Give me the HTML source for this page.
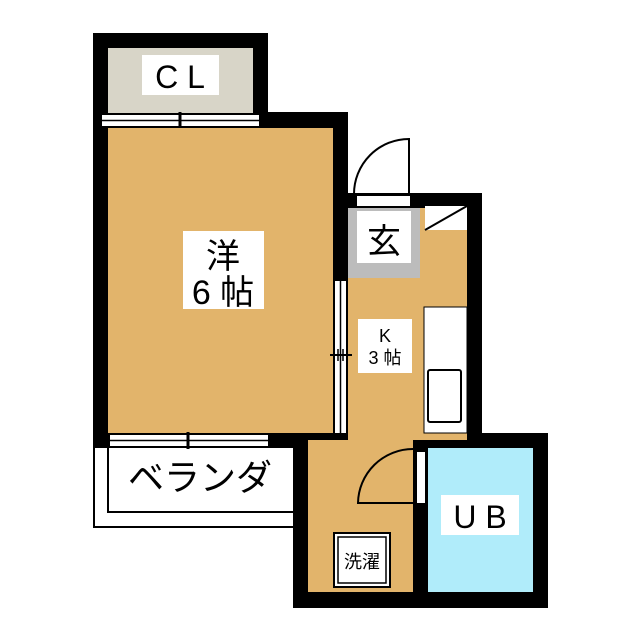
<!DOCTYPE html>
<html><head><meta charset="utf-8"><style>
body{margin:0;background:#fff}
svg{display:block}
text{font-family:"Liberation Sans","Noto Sans CJK JP",sans-serif;fill:#000}
</style></head><body>
<svg width="640" height="640" viewBox="0 0 640 640" xmlns="http://www.w3.org/2000/svg">
<rect width="640" height="640" fill="#fff"/>
<rect x="94" y="446" width="200" height="81" fill="#fff" stroke="#000" stroke-width="2"/>
<polyline points="108,446 108,512 294,512" fill="none" stroke="#000" stroke-width="2"/>
<text x="200" y="490" font-size="36" text-anchor="middle">ベランダ</text>
<rect x="93" y="33" width="175" height="95" fill="#000"/>
<rect x="93" y="112" width="255" height="336" fill="#000"/>
<rect x="333" y="193" width="149" height="255" fill="#000"/>
<rect x="293" y="433" width="255" height="175" fill="#000"/>
<rect x="108" y="48" width="145" height="65" fill="#d8d5c8"/>
<rect x="142" y="55" width="77" height="40" fill="#fff"/>
<text x="180" y="88" font-size="32" text-anchor="middle">C L</text>
<rect x="102" y="115" width="157" height="11" fill="#fff"/>
<line x1="102" y1="120.5" x2="259" y2="120.5" stroke="#000" stroke-width="1.5"/>
<line x1="180" y1="112" x2="180" y2="129" stroke="#000" stroke-width="3"/>
<rect x="108" y="128" width="225" height="305" fill="#e2b46b"/>
<rect x="183" y="231" width="81" height="78" fill="#fff"/>
<text x="223" y="268" font-size="34" text-anchor="middle">洋</text>
<text x="223" y="304" font-size="34" text-anchor="middle">6 帖</text>
<rect x="348" y="208" width="119" height="232" fill="#e2b46b"/>
<rect x="348" y="208" width="72" height="70" fill="#bcbcbc"/>
<rect x="357" y="211" width="54" height="52" fill="#fff"/>
<text x="384" y="253" font-size="34" text-anchor="middle">玄</text>
<rect x="425" y="206" width="42" height="24" fill="#fff"/>
<line x1="425" y1="230" x2="467" y2="206" stroke="#000" stroke-width="2"/>
<rect x="358" y="319" width="54" height="54" fill="#fff"/>
<text x="385" y="342" font-size="18" text-anchor="middle">K</text>
<text x="385" y="364" font-size="18" text-anchor="middle">3 帖</text>
<rect x="424" y="307" width="43" height="126" fill="#fff" stroke="#000" stroke-width="1"/>
<rect x="428" y="370" width="33" height="52" fill="#fff" stroke="#000" stroke-width="2" rx="2"/>
<rect x="335" y="281" width="11" height="152" fill="#fff"/>
<line x1="340.5" y1="281" x2="340.5" y2="433" stroke="#000" stroke-width="1.5"/>
<line x1="330" y1="355" x2="352" y2="355" stroke="#000" stroke-width="2"/>
<line x1="338" y1="349" x2="338" y2="361" stroke="#000" stroke-width="1.5"/>
<line x1="343" y1="349" x2="343" y2="361" stroke="#000" stroke-width="1.5"/>
<rect x="357" y="196" width="53" height="10" fill="#fff"/>
<path d="M354,194 A55,55 0 0 1 409,139 L409,194" fill="none" stroke="#000" stroke-width="2"/>
<rect x="110" y="435" width="158" height="11" fill="#fff"/>
<line x1="110" y1="440.5" x2="268" y2="440.5" stroke="#000" stroke-width="1.5"/>
<line x1="188" y1="432" x2="188" y2="449" stroke="#000" stroke-width="3"/>
<rect x="308" y="440" width="105" height="152" fill="#e2b46b"/>
<rect x="348" y="430" width="65" height="18" fill="#e2b46b"/>
<rect x="417" y="452" width="8" height="51" fill="#fff"/>
<path d="M413,449 A55,55 0 0 0 358,503 L413,503" fill="none" stroke="#000" stroke-width="2"/>
<rect x="334" y="533" width="56" height="54" fill="#fff" stroke="#000" stroke-width="2"/>
<rect x="338" y="537" width="48" height="46" fill="#fff" stroke="#000" stroke-width="1.5"/>
<text x="362" y="568" font-size="18" text-anchor="middle">洗濯</text>
<rect x="428" y="448" width="105" height="144" fill="#b0ecfa"/>
<rect x="441" y="495" width="78" height="40" fill="#fff"/>
<text x="480" y="528" font-size="32" text-anchor="middle">U B</text>
</svg>
</body></html>
